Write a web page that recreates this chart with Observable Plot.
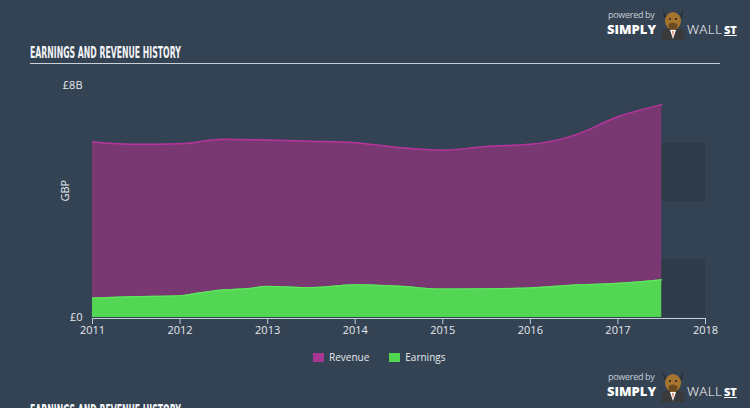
<!DOCTYPE html>
<html>
<head>
<meta charset="utf-8">
<script src="https://cdn.jsdelivr.net/npm/d3@7"></script>
<script src="https://cdn.jsdelivr.net/npm/@observablehq/plot@0.6"></script>
<style>
  html, body { margin: 0; padding: 0; background: #344354; }
  #wrap { position: relative; width: 750px; height: 408px; overflow: hidden; background: #344354; font-family: "Open Sans", Lato, sans-serif; }
  #chart { position: absolute; left: 0; top: 0; }
  .title { position: absolute; left: 30px; color: #f2f4f6; font-family: "DejaVu Sans Condensed", "Liberation Sans Narrow", sans-serif; font-weight: bold; font-size: 15px; line-height: 16px; transform-origin: left top; transform: scaleX(0.575); white-space: nowrap; }
  .rule { position: absolute; left: 30px; width: 690px; height: 1px; background: #c9d0d8; }
  .logo { position: absolute; left: 606px; width: 140px; height: 40px; color: #fff; }
  .logo span { line-height: 1; white-space: nowrap; }
  .logo .pb { position: absolute; left: 2px; top: 0px; font-size: 9px; color: #c8ced6; letter-spacing: -0.3px; }
  .logo .simply { position: absolute; left: 1px; top: 13px; font-size: 13px; font-weight: 800; letter-spacing: 0; font-family: "Open Sans", sans-serif; }
  .logo .wall { position: absolute; left: 81px; top: 13px; font-size: 13.5px; font-weight: 300; letter-spacing: 0.3px; }
  .logo .st { position: absolute; left: 118px; top: 14px; font-size: 11px; font-weight: 800; text-decoration: underline; }
  .logo svg { position: absolute; left: 51px; top: -4px; }
  .legend { position: absolute; top: 350px; left: 313px; font-size: 10px; color: #e6e9ec; display: flex; align-items: center; }
  .legend .sw { width: 11px; height: 9px; display: inline-block; margin-right: 5px; }
  .legend .item { display: flex; align-items: center; margin-right: 20px; }
</style>
</head>
<body>
<div id="wrap">
  <div id="chart"></div>
  <div class="title" style="top:45px">EARNINGS AND REVENUE HISTORY</div>
  <div class="rule" style="top:63px"></div>
  <div class="logo" style="top:10px">
    <span class="pb">powered by</span>
    <span class="simply">SIMPLY</span>
    <svg width="32" height="34" viewBox="0 0 32 34">
      <path d="M6 4 L9 10 L7 12 Z" fill="#2a2a2a"/><path d="M26 4 L23 10 L25 12 Z" fill="#2a2a2a"/>
      <path d="M4 34 L6 24 Q16 18 26 24 L28 34 Z" fill="#3a3a3a"/>
      <path d="M13 24 L16 33 L19 24 Z" fill="#ffffff"/><path d="M15.3 25 L16 31 L16.7 25 Z" fill="#d04a1e"/>
      <ellipse cx="16" cy="15" rx="8" ry="9" fill="#a6742f"/>
      <ellipse cx="16" cy="20" rx="4.5" ry="3.2" fill="#6b4a22"/>
      <circle cx="13" cy="13" r="1" fill="#222"/><circle cx="19" cy="13" r="1" fill="#222"/>
    </svg>
    <span class="wall">WALL</span>
    <span class="st">ST</span>
  </div>
  <div class="legend">
    <div class="item"><span class="sw" style="background:#a83594"></span>Revenue</div>
    <div class="item"><span class="sw" style="background:#52d652"></span>Earnings</div>
  </div>
  <div class="logo" style="top:372px">
    <span class="pb">powered by</span>
    <span class="simply">SIMPLY</span>
    <svg width="32" height="34" viewBox="0 0 32 34">
      <path d="M6 4 L9 10 L7 12 Z" fill="#2a2a2a"/><path d="M26 4 L23 10 L25 12 Z" fill="#2a2a2a"/>
      <path d="M4 34 L6 24 Q16 18 26 24 L28 34 Z" fill="#3a3a3a"/>
      <path d="M13 24 L16 33 L19 24 Z" fill="#ffffff"/><path d="M15.3 25 L16 31 L16.7 25 Z" fill="#d04a1e"/>
      <ellipse cx="16" cy="15" rx="8" ry="9" fill="#a6742f"/>
      <ellipse cx="16" cy="20" rx="4.5" ry="3.2" fill="#6b4a22"/>
      <circle cx="13" cy="13" r="1" fill="#222"/><circle cx="19" cy="13" r="1" fill="#222"/>
    </svg>
    <span class="wall">WALL</span>
    <span class="st">ST</span>
  </div>
  <div class="title" style="top:403px">EARNINGS AND REVENUE HISTORY</div>
</div>
<script>
// Revenue history (GBP billions), semi-annual
const revenueYears = [2011, 2011.5, 2012, 2012.5, 2013, 2013.5, 2014, 2014.5, 2015, 2015.5, 2016, 2016.5, 2017, 2017.5];
const revenue      = [6.05, 5.97, 5.99, 6.15, 6.12, 6.08, 6.03, 5.86, 5.77, 5.90, 5.97, 6.28, 6.92, 7.34];
// Earnings history (GBP billions)
const earningsYears = [2011, 2011.5, 2012, 2012.25, 2012.5, 2012.75, 2013, 2013.5, 2014, 2014.5, 2015, 2015.5, 2016, 2016.5, 2017, 2017.5];
const earnings      = [0.67, 0.72, 0.75, 0.86, 0.95, 0.99, 1.07, 1.03, 1.13, 1.08, 0.98, 0.99, 1.02, 1.12, 1.18, 1.30];
// Forecast-zone shading bands (GBP billions)
const bandStart = [2017.5, 2017.5];
const bandEnd   = [2018, 2018];
const bandLow   = [0, 4];
const bandHigh  = [2, 6];
// Axis ticks
const xTicks = [2011, 2012, 2013, 2014, 2015, 2016, 2017, 2018];
const yTicks = [0, 8];
const yTickLabels = ["£0", "£8B"];

const revData = revenueYears.map((t, i) => ({t, v: revenue[i]}));
const earnData = earningsYears.map((t, i) => ({t, v: earnings[i]}));
const bands = bandStart.map((s, i) => ({x1: s, x2: bandEnd[i], y1: bandLow[i], y2: bandHigh[i]}));

const chart = Plot.plot({
  width: 750,
  height: 408,
  marginLeft: 92,
  marginRight: 45,
  marginTop: 85,
  marginBottom: 91,
  style: { background: "transparent", color: "#d5dae0", fontFamily: "'Open Sans', Lato, sans-serif", fontSize: "10px" },
  x: { domain: [2011, 2018] },
  y: { domain: [0, 8] },
  marks: [
    Plot.rect(bands, {x1: "x1", x2: "x2", y1: "y1", y2: "y2", fill: "#2e3b49"}),
    Plot.areaY(revData, {x: "t", y: "v", fill: "#7a3873", curve: "monotone-x"}),
    Plot.lineY(revData, {x: "t", y: "v", stroke: "#b5349c", strokeWidth: 1.5, curve: "monotone-x"}),
    Plot.areaY(earnData, {x: "t", y: "v", fill: "#53d653", curve: "monotone-x"}),
    Plot.lineY(earnData, {x: "t", y: "v", stroke: "#5ee85e", strokeWidth: 1.2, curve: "monotone-x"}),
    Plot.ruleY([0], {stroke: "#c4ccd4", strokeWidth: 1, dy: 1}),
    Plot.axisX({ticks: xTicks, tickFormat: d => String(d), tickSize: 6, tickPadding: 2, stroke: "#c4ccd4", color: "#e4e8ec", fontSize: 11, label: null, dy: 1}),
    Plot.axisY({ticks: yTicks, tickFormat: d => yTickLabels[yTicks.indexOf(d)], tickSize: 0, tickPadding: 10, color: "#e4e8ec", fontSize: 11, label: null}),
    Plot.text(["GBP"], {frameAnchor: "left", dx: -27, rotate: -90, fill: "#e4e8ec", fontSize: 11})
  ]
});
document.getElementById("chart").appendChild(chart);
</script>
</body>
</html>
